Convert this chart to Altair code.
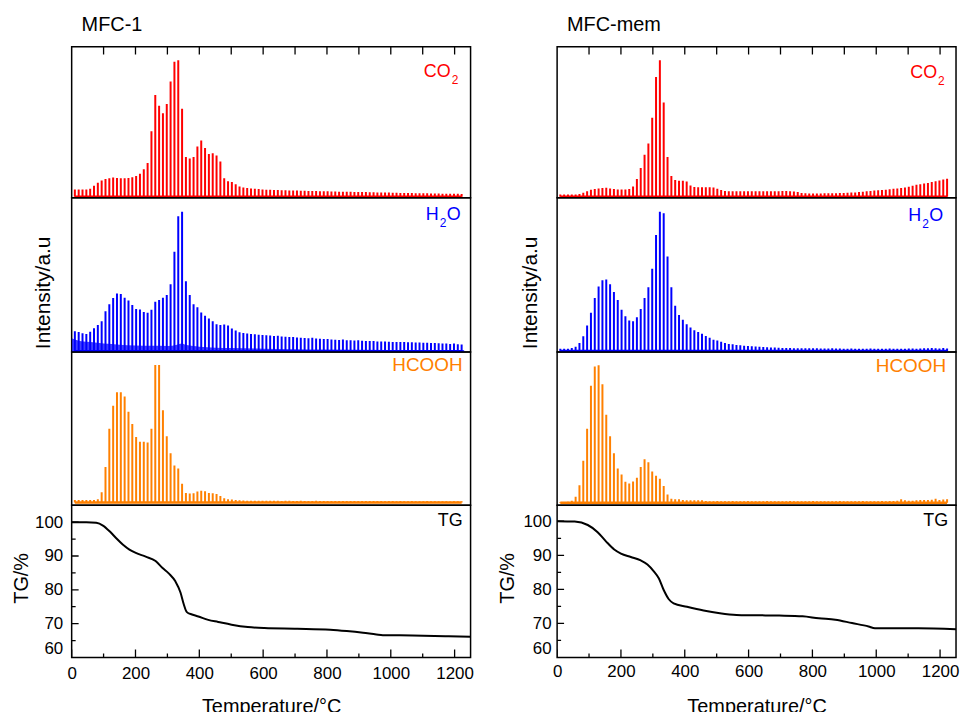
import altair as alt
import pandas as pd

FONT = "Liberation Sans"
RED, BLUE, ORANGE = "#ff0000", "#0000ff", "#ff8000"
W = 401
H_CO2, H_H2O, H_HCOOH, H_TG = 152, 155, 154, 153
X_DOMAIN = [0, 1250]
SPIKE_T0, SPIKE_DT = 10, 12   # spectra sampled every ~12 °C

# ---------------- MFC-1 spectra (relative intensity, 0-100 per panel) ----------------
MFC1_CO2 = [5.5, 5.5, 5.5, 5.5, 6, 8, 10, 11.5, 12.5, 13,
            13.5, 13.2, 13, 13, 13.2, 13.6, 14.5, 16, 19, 23,
            44, 68, 61, 56, 62, 77, 90, 91, 59, 27,
            26, 27, 34, 38, 33, 29, 29.5, 28, 24, 13,
            11, 10.5, 9, 7.5, 6.8, 6.5, 6.2, 6, 5.8, 5.6,
            5.4, 5.3, 5.2, 5.2, 5.1, 5, 4.9, 4.9, 4.8, 4.7,
            4.7, 4.6, 4.5, 4.5, 4.4, 4.4, 4.3, 4.2, 4.2, 4.1,
            4.1, 4, 4, 3.9, 3.9, 3.8, 3.8, 3.7, 3.7, 3.6,
            3.6, 3.5, 3.5, 3.4, 3.4, 3.3, 3.3, 3.2, 3.2, 3.1,
            3.1, 3, 3, 2.9, 2.9, 2.9, 2.8, 2.8, 2.8, 2.7,
            2.7, 2.6]
MFC1_H2O = [13.5, 13, 12.2, 11.7, 13.2, 15.5, 17.5, 20, 26.5, 31,
            35, 38, 37.6, 35.2, 33.5, 30.5, 28, 27.6, 26, 25.5,
            27.5, 32.6, 33.8, 35.3, 37, 44, 65, 88, 91, 46,
            37, 31, 29, 25.7, 23.5, 21.7, 20, 18, 17.6, 17.8,
            17.3, 15.3, 14, 12.9, 12.4, 12, 11.7, 11.5, 11.3, 11.1,
            10.9, 10.7, 10.4, 10.5, 10.1, 9.9, 9.7, 9.7, 9.4, 9.3,
            9.1, 9, 9.2, 8.8, 8.6, 8.4, 8.5, 8.2, 8, 7.9,
            8.1, 7.7, 7.6, 7.5, 7.6, 7.3, 7.2, 7.1, 7.1, 6.9,
            6.8, 6.9, 6.7, 6.6, 6.6, 6.5, 6.5, 6.4, 6.3, 6.2,
            6.2, 6, 6, 5.9, 5.8, 5.7, 5.6, 5.5, 5.3, 5.5,
            5, 4.9]
MFC1_H2O_LOW_T = [0, 30, 60, 100, 150, 200, 250, 300, 330, 345, 360, 400, 500, 600, 700, 800, 1000, 1230]
MFC1_H2O_LOW_V = [9, 7, 6.5, 5.5, 4.8, 4.3, 4.1, 4, 4.8, 5.6, 4.5, 3.5, 2.6, 2.2, 1.8, 1.6, 1.4, 1.3]
MFC1_HCOOH = [3.5, 3.5, 3.5, 3.5, 3.5, 3.5, 4, 8.5, 25, 50,
              65, 73.8, 73.8, 71, 61, 53, 44.5, 41.5, 41.5, 41,
              50, 91.5, 91.5, 62, 45, 34, 26, 24, 14, 8,
              7.6, 7.9, 9, 9.4, 9.2, 8, 7.9, 7.3, 6, 4.5,
              4, 3.8, 3.5, 3.3, 3.1, 3, 3, 2.9, 3, 2.9,
              2.9, 3, 2.9, 2.9, 2.8, 2.9, 2.9, 2.8, 2.8, 2.9,
              2.8, 2.8, 2.8, 2.9, 2.8, 2.8, 2.7, 2.8, 2.8, 2.7,
              2.8, 2.7, 2.7, 2.8, 2.7, 2.7, 2.7, 2.7, 2.8, 2.7,
              2.7, 2.6, 2.7, 2.7, 2.6, 2.7, 2.6, 2.6, 2.7, 2.6,
              2.6, 2.6, 2.7, 2.6, 2.6, 2.6, 2.6, 2.6, 2.5, 2.6,
              2.6, 2.6]

# ---------------- MFC-mem spectra ----------------
MEM_CO2 = [2.2, 2.2, 2.2, 2.2, 2.3, 2.6, 3.4, 4.4, 5.3, 5.9,
           6.2, 6.5, 6.7, 6.2, 5.9, 5.6, 5.5, 5.5, 5.8, 7.5,
           12.5, 19.7, 28.5, 36, 53, 80, 91, 63, 27, 14.5,
           11.8, 11.4, 11.4, 10.8, 8.2, 7.2, 7, 7, 7.1, 7,
           6.8, 6, 5.2, 4.6, 4.4, 4.4, 4.3, 4.3, 4.4, 4.3,
           4.3, 4.3, 4.3, 4.3, 4.4, 4.3, 4.3, 4.4, 4.5, 4.5,
           4.3, 4.2, 3.8, 3.2, 3, 2.9, 2.9, 2.9, 2.9, 3,
           3, 3.1, 3.1, 3.2, 3.3, 3.4, 3.5, 3.6, 3.8, 4,
           4.3, 4.6, 4.8, 5, 5.2, 5.4, 5.7, 6, 6.2, 6.5,
           6.9, 7.4, 8, 8.6, 9, 9.5, 9.8, 10.5, 11, 11.5,
           12.2, 12.7]
MEM_H2O = [2.2, 2.2, 2.2, 2.6, 3.5, 5.8, 10.3, 17.2, 25.5, 35,
           42.5, 46.5, 47, 44, 39, 33.8, 27.5, 23.2, 20.5, 20,
           22.5, 28, 35, 42, 54, 76, 91, 90, 62, 42,
           30, 24, 21, 18, 16, 14.2, 13, 11.8, 10.4, 9.3,
           8, 7.5, 6.7, 5.9, 5.3, 5, 4.6, 4.4, 4.1, 3.9,
           3.8, 3.6, 3.4, 3.3, 3.2, 3, 2.9, 2.8, 2.7, 2.6,
           2.6, 2.5, 2.5, 2.5, 2.4, 2.4, 2.4, 2.4, 2.3, 2.3,
           2.3, 2.4, 2.3, 2.3, 2.2, 2.2, 2.3, 2.2, 2.2, 2.2,
           2.2, 2.3, 2.2, 2.2, 2.2, 2.2, 2.3, 2.2, 2.2, 2.2,
           2.2, 2.3, 2.3, 2.2, 2.3, 2.4, 2.5, 2.6, 2.4, 2.3,
           2.6, 2.3]
MEM_HCOOH = [2.2, 2.2, 2.3, 3, 5.5, 13, 29, 50, 78, 90.5,
             91.4, 79, 59, 45, 34, 24, 20, 15.3, 14.2, 15.5,
             18, 25, 30, 28, 22, 19.3, 17.3, 12.5, 7, 4.2,
             4, 4, 3.4, 3.3, 3.3, 3.3, 3.2, 3.2, 2.7, 2.6,
             2.6, 2.7, 2.6, 2.6, 2.6, 2.7, 2.6, 2.6, 2.6, 2.7,
             2.6, 2.6, 2.6, 2.6, 2.7, 2.6, 2.6, 2.6, 2.6, 2.6,
             2.7, 2.6, 2.6, 2.6, 2.6, 2.6, 2.7, 2.6, 2.6, 2.6,
             2.6, 2.6, 2.6, 2.7, 2.6, 2.6, 2.6, 2.6, 2.6, 2.7,
             2.6, 2.6, 2.6, 2.6, 2.7, 2.6, 2.7, 2.8, 3.0, 4,
             3.2, 3, 3, 3.2, 3.5, 3.5, 3.4, 3.6, 4.2, 3.5,
             3.7, 3.9]

# ---------------- TG curves ----------------
TG1_T = [0, 46, 77, 98, 119, 139, 160, 181, 201, 232, 263, 284, 305, 325, 341, 351, 361,
         377, 397, 428, 459, 501, 552, 604, 707, 810, 862, 913, 955, 975, 1068, 1171, 1250]
TG1_V = [100, 100, 99.8, 99, 97.3, 95.3, 93.4, 91.9, 90.9, 89.8, 88.5, 86.5, 84.8, 82.5, 79.2, 75.8, 73.4,
         72.7, 72.1, 71.1, 70.5, 69.7, 69, 68.7, 68.5, 68.2, 67.8, 67.3, 66.8, 66.6, 66.5, 66.3, 66.1]
TG2_T = [0, 55, 96, 127, 153, 179, 200, 231, 262, 283, 303, 319, 334, 350, 365, 407, 459,
         510, 562, 614, 696, 769, 820, 872, 924, 976, 996, 1027, 1131, 1250]
TG2_V = [100, 99.9, 98.9, 96.8, 94.1, 91.7, 90.5, 89.5, 88.5, 87.3, 85.3, 83.2, 79.8, 77.1, 75.9, 74.9, 73.8,
         73, 72.5, 72.4, 72.3, 72.1, 71.5, 71.1, 70.1, 69.1, 68.6, 68.6, 68.6, 68.3]

# ---------------- tick values / texts ----------------
X_TICKS = [100, 200, 300, 400, 500, 600, 700, 800, 900, 1000, 1100, 1200]
X_LABELS = [0, 200, 400, 600, 800, 1000, 1200]
X_MINOR = [100, 300, 500, 700, 900, 1100]
TG_LABELS = [60, 70, 80, 90, 100]
TG_MAJOR = [70, 80, 90, 100]
TG_MINOR = [65, 75, 85, 95]
TITLES = ["MFC-1", "MFC-mem"]
X_TITLE = "Temperature/°C"
Y_TITLE_MS = "Intensity/a.u"
Y_TITLE_TG = "TG/%"


def xscale():
    return alt.Scale(domain=X_DOMAIN, nice=False, zero=False)


def text_layer(txt, x, y, color, size=18, align="right"):
    return alt.Chart(pd.DataFrame({"s": [txt]})).mark_text(
        font=FONT, fontSize=size, color=color, align=align, baseline="middle"
    ).encode(text="s:N", x=alt.value(x), y=alt.value(y))


def formula_label(parts, color):
    return [text_layer(t, x, y, color, size=s, align=a) for (t, x, y, s, a) in parts]


def spectrum(vals, color, base, height, label_parts, yaxis=None, low=None, top_ticks=False, title=None):
    temps = [SPIKE_T0 + SPIKE_DT * i for i in range(len(vals))]
    df = pd.DataFrame({"T": temps, "v": vals, "b": [base] * len(vals)})
    ysc = alt.Scale(domain=[0, 100], nice=False)
    X = alt.X("T:Q", scale=xscale(), axis=None)
    layers = []
    if low is not None:
        dlow = pd.DataFrame({"T": low[0], "v": low[1]})
        layers.append(alt.Chart(dlow).mark_area(color=color, opacity=0.75, interpolate="monotone",
                                                clip=True).encode(
            x=X, y=alt.Y("v:Q", scale=ysc, axis=yaxis)))
    layers.append(alt.Chart(df).mark_rule(color=color, strokeWidth=2, clip=True).encode(
        x=X, y=alt.Y("v:Q", scale=ysc, axis=yaxis), y2="b:Q"))
    layers.append(alt.Chart(df).mark_line(color=color, strokeWidth=2.5, clip=True,
                                          strokeJoin="round").encode(
        x=X, y=alt.Y("b:Q", scale=ysc, axis=yaxis)))
    if top_ticks:
        dt = pd.DataFrame({"T": X_TICKS})
        layers.append(alt.Chart(dt).mark_rule(color="black", strokeWidth=1.3, clip=True).encode(
            x=X, y=alt.value(0), y2=alt.value(8)))
    layers += formula_label(label_parts, color)
    props = dict(width=W, height=height)
    if title is not None:
        props["title"] = title
    return alt.layer(*layers).properties(**props)


def tg_panel(temps, vals, ydomain, label_x, label_pad_y, label_pad_x, title_x, title_y, xtitle_y):
    X = alt.X("T:Q", scale=xscale(), axis=alt.Axis(
        values=X_LABELS, format="d", ticks=False, tickSize=0, domain=False, grid=False, labelFontSize=17,
        labelPadding=label_pad_x, labelFlush=False, labelOverlap=False, title=X_TITLE,
        titleFontSize=20, titleY=xtitle_y, titleBaseline="top"))
    Y = alt.Y("v:Q", scale=alt.Scale(domain=ydomain, nice=False, zero=False), axis=alt.Axis(
        values=TG_LABELS, format="d", ticks=False, tickSize=0, domain=False, grid=False, labelFontSize=17,
        labelPadding=label_pad_y, labelFlush=True, labelOverlap=False, title=Y_TITLE_TG,
        titleFontSize=20, titleX=title_x, titleY=title_y, titleBaseline="middle"))
    df = pd.DataFrame({"T": temps, "v": vals})
    line = alt.Chart(df).mark_line(color="black", strokeWidth=2, interpolate="monotone", clip=True,
                                   strokeJoin="round").encode(x=X, y=Y)
    xt_major = alt.Chart(pd.DataFrame({"T": X_LABELS})).mark_rule(color="black", strokeWidth=1.3,
                                                                   clip=True).encode(
        x=X, y=alt.value(H_TG), y2=alt.value(H_TG - 8))
    xt_minor = alt.Chart(pd.DataFrame({"T": X_MINOR})).mark_rule(color="black", strokeWidth=1.3,
                                                                  clip=True).encode(
        x=X, y=alt.value(H_TG), y2=alt.value(H_TG - 4))
    yt_major = alt.Chart(pd.DataFrame({"v": TG_MAJOR})).mark_rule(color="black", strokeWidth=1.3,
                                                                   clip=True).encode(
        y=Y, x=alt.value(0), x2=alt.value(7))
    yt_minor = alt.Chart(pd.DataFrame({"v": TG_MINOR})).mark_rule(color="black", strokeWidth=1.3,
                                                                   clip=True).encode(
        y=Y, x=alt.value(0), x2=alt.value(4))
    lab = text_layer("TG", label_x, 16, "black")
    return alt.layer(line, xt_major, xt_minor, yt_major, yt_minor, lab).properties(width=W, height=H_TG)


def col_title(txt, offset):
    return alt.TitleParams(txt, anchor="start", frame="group", offset=offset, dx=10, fontSize=20,
                           font=FONT, fontWeight="normal", color="black")


def ms_axis(title_x, title_y):
    return alt.Axis(title=Y_TITLE_MS, labels=False, ticks=False, domain=False, grid=False,
                    titleFontSize=21, titleX=title_x, titleY=title_y, titleBaseline="middle")


left = alt.vconcat(
    spectrum(MFC1_CO2, RED, 0.8, H_CO2,
             [("CO", W - 20, 25, 18, "right"), ("2", W - 19, 34, 12, "left")],
             top_ticks=True, title=col_title(TITLES[0], 11.5)),
    spectrum(MFC1_H2O, BLUE, 0.5, H_H2O,
             [("H", W - 32, 17, 18, "right"), ("2", W - 31, 25, 12, "left"), ("O", W - 24, 17, 18, "left")],
             yaxis=ms_axis(-28, 95), low=(MFC1_H2O_LOW_T, MFC1_H2O_LOW_V)),
    spectrum(MFC1_HCOOH, ORANGE, 1.8, H_HCOOH, [("HCOOH", W - 8, 13, 19, "right")]),
    tg_panel(TG1_T, TG1_V, [60, 105], W - 8, 9, 8, -50, 73, 39),
    spacing=0, bounds="flush",
)

right = alt.vconcat(
    spectrum(MEM_CO2, RED, 0.8, H_CO2,
             [("CO", W - 19, 26, 18, "right"), ("2", W - 18, 35, 12, "left")],
             top_ticks=True, title=col_title(TITLES[1], 11.5)),
    spectrum(MEM_H2O, BLUE, 0.7, H_H2O,
             [("H", W - 35, 18, 18, "right"), ("2", W - 34, 26, 12, "left"), ("O", W - 27, 18, 18, "left")],
             yaxis=ms_axis(-27, 95)),
    spectrum(MEM_HCOOH, ORANGE, 1.6, H_HCOOH, [("HCOOH", W - 10, 14, 19, "right")]),
    tg_panel(TG2_T, TG2_V, [60, 104.7], W - 8, 6, 6, -50, 73, 39),
    spacing=0, bounds="flush",
)

chart = alt.hconcat(left, right, spacing=22).properties(
    padding={"left": 3, "top": 4, "right": 0, "bottom": 0}
).configure_view(
    stroke="black", strokeWidth=1.5
).configure_axis(
    labelFont=FONT, titleFont=FONT, labelColor="black", titleColor="black", titleFontWeight="normal"
).configure_title(
    font=FONT, fontWeight="normal", color="black"
)

chart.save("out.html", embed_options={"renderer": "svg", "actions": False})
